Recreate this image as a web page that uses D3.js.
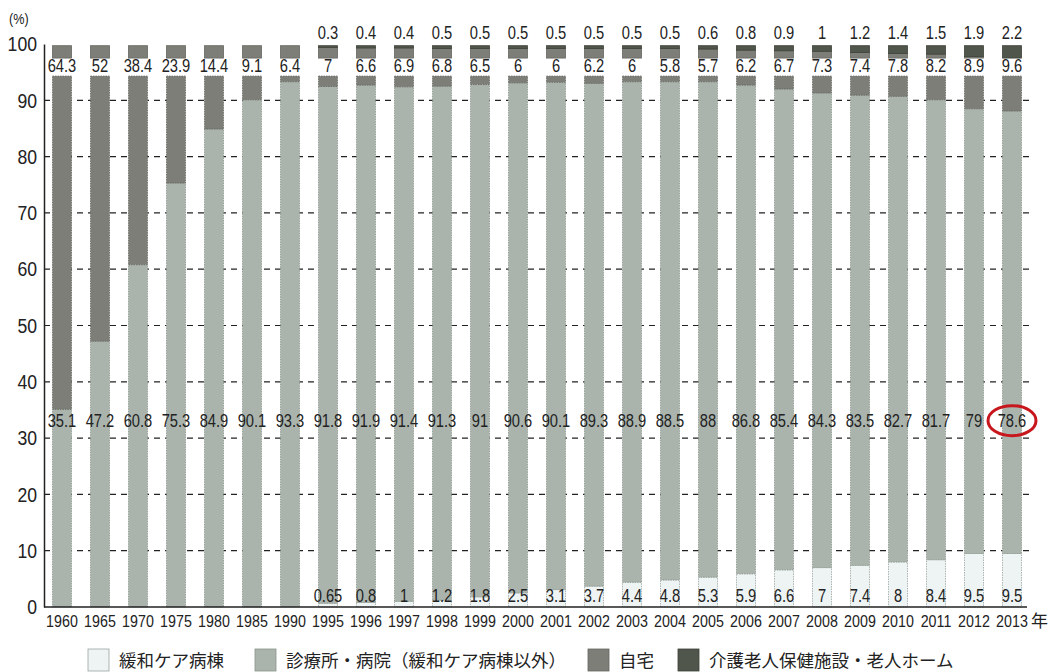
<!DOCTYPE html>
<html>
<head>
<meta charset="utf-8">
<script src="https://cdn.jsdelivr.net/npm/d3@7"></script>
<style>
  body { margin: 0; background: #fff; }
  text { font-family: "Liberation Sans", Arial, sans-serif; fill: #222; }
  .jp { font-family: "Noto Sans CJK JP", sans-serif; }
</style>
</head>
<body>
<div id="chart"></div>
<script>
const years = ['1960', '1965', '1970', '1975', '1980', '1985', '1990', '1995', '1996', '1997', '1998', '1999',
  '2000', '2001', '2002', '2003', '2004', '2005', '2006', '2007', '2008', '2009', '2010', '2011', '2012', '2013'];

// 緩和ケア病棟
const palliative = [0, 0, 0, 0, 0, 0, 0, 0.65, 0.8, 1, 1.2, 1.8, 2.5, 3.1, 3.7, 4.4, 4.8, 5.3, 5.9, 6.6, 7, 7.4, 8, 8.4, 9.5, 9.5];
// 診療所・病院（緩和ケア病棟以外）
const hospital = [35.1, 47.2, 60.8, 75.3, 84.9, 90.1, 93.3, 91.8, 91.9, 91.4, 91.3, 91, 90.6, 90.1, 89.3, 88.9, 88.5, 88,
  86.8, 85.4, 84.3, 83.5, 82.7, 81.7, 79, 78.6];
// 自宅
const home = [64.3, 52, 38.4, 23.9, 14.4, 9.1, 6.4, 7, 6.6, 6.9, 6.8, 6.5, 6, 6, 6.2, 6, 5.8, 5.7, 6.2, 6.7, 7.3, 7.4,
  7.8, 8.2, 8.9, 9.6];
// 介護老人保健施設・老人ホーム
const nursing = [null, null, null, null, null, null, null, 0.3, 0.4, 0.4, 0.5, 0.5, 0.5, 0.5, 0.5, 0.5, 0.5, 0.6, 0.8,
  0.9, 1, 1.2, 1.4, 1.5, 1.9, 2.2];

const yTicks = [0, 10, 20, 30, 40, 50, 60, 70, 80, 90, 100];

const seriesNames = ['緩和ケア病棟', '診療所・病院（緩和ケア病棟以外）', '自宅', '介護老人保健施設・老人ホーム'];
const colors = ['#eef3f3', '#aab4ad', '#7c7e77', '#50564b'];
const strokes = ['#9aa3a0', '#8a958d', '#656761', '#3e4239'];

const width = 1049;
const height = 672;
const margin = { top: 44, right: 18, bottom: 65, left: 44 };

// scale break: main bar shows 0..94.3, cap shows the top 2.2 of each stack
const breakTop = 94.3;
const capLow = 97.5;
const capHigh = 99.7;

// condensed look for the number labels
const squeeze = 0.84;

const svg = d3.select('#chart').append('svg')
  .attr('width', width)
  .attr('height', height);

const x = d3.scaleBand()
  .domain(years)
  .range([margin.left - 1, width - margin.right])
  .paddingInner(0.5)
  .paddingOuter(0.25);

const y = d3.scaleLinear()
  .domain([0, 100])
  .range([height - margin.bottom, margin.top]);

// dashed grid
svg.append('g')
  .selectAll('line')
  .data(yTicks.filter(d => d > 0 && d < 100))
  .join('line')
  .attr('x1', margin.left)
  .attr('x2', width - margin.right)
  .attr('y1', d => y(d))
  .attr('y2', d => y(d))
  .attr('stroke', '#222')
  .attr('stroke-width', 1.2)
  .attr('stroke-dasharray', '6,5');

// y axis
const yAxis = svg.append('g')
  .attr('transform', `translate(${margin.left},0)`)
  .call(d3.axisLeft(y).tickValues(yTicks).tickSize(0).tickPadding(7));
yAxis.select('.domain').attr('stroke', '#222').attr('stroke-width', 1.5);
yAxis.selectAll('text')
  .style('font-family', '"Liberation Sans", Arial, sans-serif')
  .attr('font-size', 21)
  .attr('fill', '#222')
  .attr('transform', `scale(${squeeze},1)`)
  .attr('x', -7 / squeeze);

svg.append('text')
  .attr('x', 9)
  .attr('y', 24)
  .attr('font-size', 15)
  .attr('transform', `scale(${squeeze},1)`)
  .attr('x', 9 / squeeze)
  .text('(%)');

// build stacks
const rows = years.map((yr, i) => {
  const vals = [palliative[i], hospital[i], home[i], nursing[i] || 0];
  let acc = 0;
  const segs = vals.map((v, k) => {
    const s = { k, y0: acc, y1: acc + v };
    acc += v;
    return s;
  });
  return { year: yr, i, segs, total: acc };
});

const bars = svg.append('g');
rows.forEach(r => {
  const g = bars.append('g');
  // main part below the break
  r.segs.forEach(s => {
    const lo = s.y0;
    const hi = Math.min(s.y1, breakTop);
    if (hi - lo <= 0) return;
    g.append('rect')
      .attr('x', x(r.year))
      .attr('width', x.bandwidth())
      .attr('y', y(hi))
      .attr('height', y(lo) - y(hi))
      .attr('fill', colors[s.k])
      .attr('stroke', strokes[s.k])
      .attr('stroke-width', 0.8)
      .attr('stroke-dasharray', '1.5,1');
  });
  // cap above the break
  const shift = capHigh - r.total;
  r.segs.forEach(s => {
    const lo = Math.max(s.y0 + shift, capLow);
    const hi = Math.min(s.y1 + shift, capHigh);
    if (hi - lo <= 0) return;
    g.append('rect')
      .attr('x', x(r.year))
      .attr('width', x.bandwidth())
      .attr('y', y(hi))
      .attr('height', y(lo) - y(hi))
      .attr('fill', colors[s.k])
      .attr('stroke', strokes[s.k])
      .attr('stroke-width', 0.8);
  });
});

// baseline
svg.append('line')
  .attr('x1', margin.left)
  .attr('x2', width - margin.right - 4)
  .attr('y1', y(0))
  .attr('y2', y(0))
  .attr('stroke', '#222')
  .attr('stroke-width', 1.5);

// value labels
const labelRows = [
  { vals: palliative, at: 1.9, skip: v => !v },
  { vals: hospital, at: 33.1, skip: v => v == null },
  { vals: home, at: 96.1, skip: v => v == null },
  { vals: nursing, at: 102, skip: v => v == null }
];
labelRows.forEach(lr => {
  svg.append('g')
    .attr('transform', `scale(${squeeze},1)`)
    .selectAll('text')
    .data(years.map((yr, i) => ({ yr, v: lr.vals[i] })).filter(d => !lr.skip(d.v)))
    .join('text')
    .attr('x', d => (x(d.yr) + x.bandwidth() / 2) / squeeze)
    .attr('y', y(lr.at))
    .attr('dy', '0.35em')
    .attr('text-anchor', 'middle')
    .attr('font-size', 17.5)
    .text(d => d.v);
});

// highlight 2013
svg.append('ellipse')
  .attr('cx', x('2013') + x.bandwidth() / 2)
  .attr('cy', y(33.1))
  .attr('rx', 24)
  .attr('ry', 15)
  .attr('fill', 'none')
  .attr('stroke', '#c8161d')
  .attr('stroke-width', 3);

// x axis labels
svg.append('g')
  .attr('transform', `scale(${squeeze},1)`)
  .selectAll('text')
  .data(years)
  .join('text')
  .attr('x', d => (x(d) + x.bandwidth() / 2) / squeeze)
  .attr('y', y(0) + 14)
  .attr('dy', '0.35em')
  .attr('text-anchor', 'middle')
  .attr('font-size', 17)
  .text(d => d);

svg.append('text')
  .attr('class', 'jp')
  .attr('x', x('2013') + x.bandwidth() / 2 + 19)
  .attr('y', y(0) + 14)
  .attr('dy', '0.35em')
  .attr('font-size', 17)
  .text('年');

// legend
const legendX = [88, 255, 588, 678];
const legend = svg.append('g');
seriesNames.forEach((name, k) => {
  legend.append('rect')
    .attr('x', legendX[k])
    .attr('y', 649)
    .attr('width', 21)
    .attr('height', 22)
    .attr('fill', colors[k])
    .attr('stroke', strokes[k])
    .attr('stroke-width', 0.8);
  legend.append('text')
    .attr('class', 'jp')
    .attr('x', legendX[k] + 31)
    .attr('y', 661)
    .attr('dy', '0.35em')
    .attr('font-size', 17.5)
    .text(name);
});
</script>
</body>
</html>
